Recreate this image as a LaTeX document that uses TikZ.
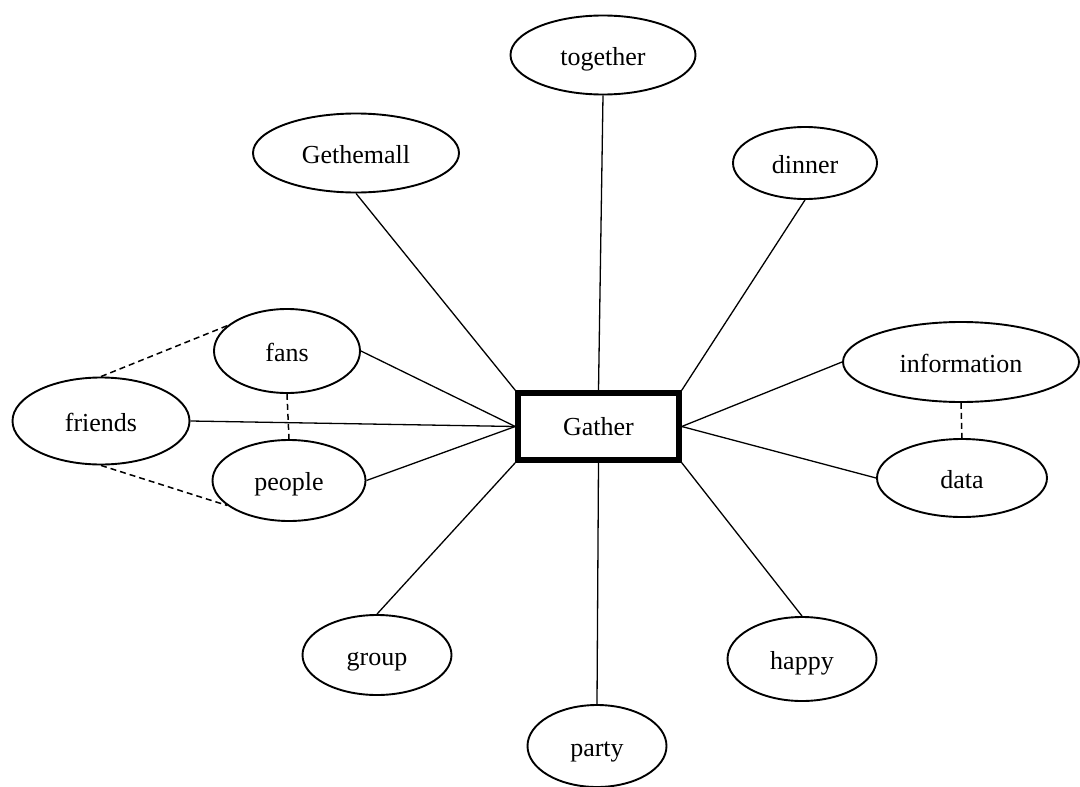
\documentclass[tikz,border=0pt]{standalone}
\usepackage{fontspec}
\setmainfont{Liberation Serif}
\usetikzlibrary{shapes.geometric}
\begin{document}
\begin{tikzpicture}[x=1pt,y=-1pt,
  every node/.style={font=\fontsize{26}{30}\selectfont},
  term/.style={ellipse, draw, line width=1.9pt, inner sep=0pt, text height=20pt, text depth=0pt},
  hub/.style={rectangle, draw, line width=5.5pt, minimum width=161pt, minimum height=67pt, inner sep=0pt},
  link/.style={line width=1.3pt},
  relation/.style={line width=1.5pt, dashed, dash pattern=on 6pt off 4pt}]
\useasboundingbox (0,0) rectangle (1080,787);

% central concept
\node[hub] (gather) at (598.5,426.5) {Gather};

% surrounding terms
\node[term, minimum width=185pt, minimum height=79pt] (together)    at (603,55)    {together};
\node[term, minimum width=206pt, minimum height=79pt] (gethemall)   at (356,153)   {Gethemall};
\node[term, minimum width=144pt, minimum height=72pt] (dinner)      at (805,163)   {dinner};
\node[term, minimum width=236pt, minimum height=80pt] (information) at (961,362)   {information};
\node[term, minimum width=170pt, minimum height=78pt] (data)        at (962,478)   {data};
\node[term, minimum width=149pt, minimum height=84pt] (happy)       at (802,659)   {happy};
\node[term, minimum width=139pt, minimum height=82pt] (party)       at (597,746)   {party};
\node[term, minimum width=149pt, minimum height=80pt] (group)       at (377,655)   {group};
\node[term, minimum width=153pt, minimum height=81pt] (people)      at (289,480.5) {people};
\node[term, minimum width=146pt, minimum height=84pt] (fans)        at (287,351)   {fans};
\node[term, minimum width=177pt, minimum height=87pt] (friends)     at (101,421)   {friends};

% links to the central concept
\draw[link] (together.south)    -- (gather.north);
\draw[link] (gethemall.south)   -- (gather.north west);
\draw[link] (dinner.south)      -- (gather.north east);
\draw[link] (information.west)  -- (gather.east);
\draw[link] (data.west)         -- (gather.east);
\draw[link] (happy.north)       -- (gather.south east);
\draw[link] (party.north)       -- (gather.south);
\draw[link] (group.north)       -- (gather.south west);
\draw[link] (people.east)       -- (gather.west);
\draw[link] (friends.east)      -- (gather.west);
\draw[link] (fans.east)         -- (gather.west);

% related terms
\draw[relation] (friends.north) -- (fans.157);
\draw[relation] (friends.south) -- (people.202);
\draw[relation] (fans.south) -- (people.north);
\draw[relation] (information.south) -- (data.north);
\end{tikzpicture}
\end{document}
